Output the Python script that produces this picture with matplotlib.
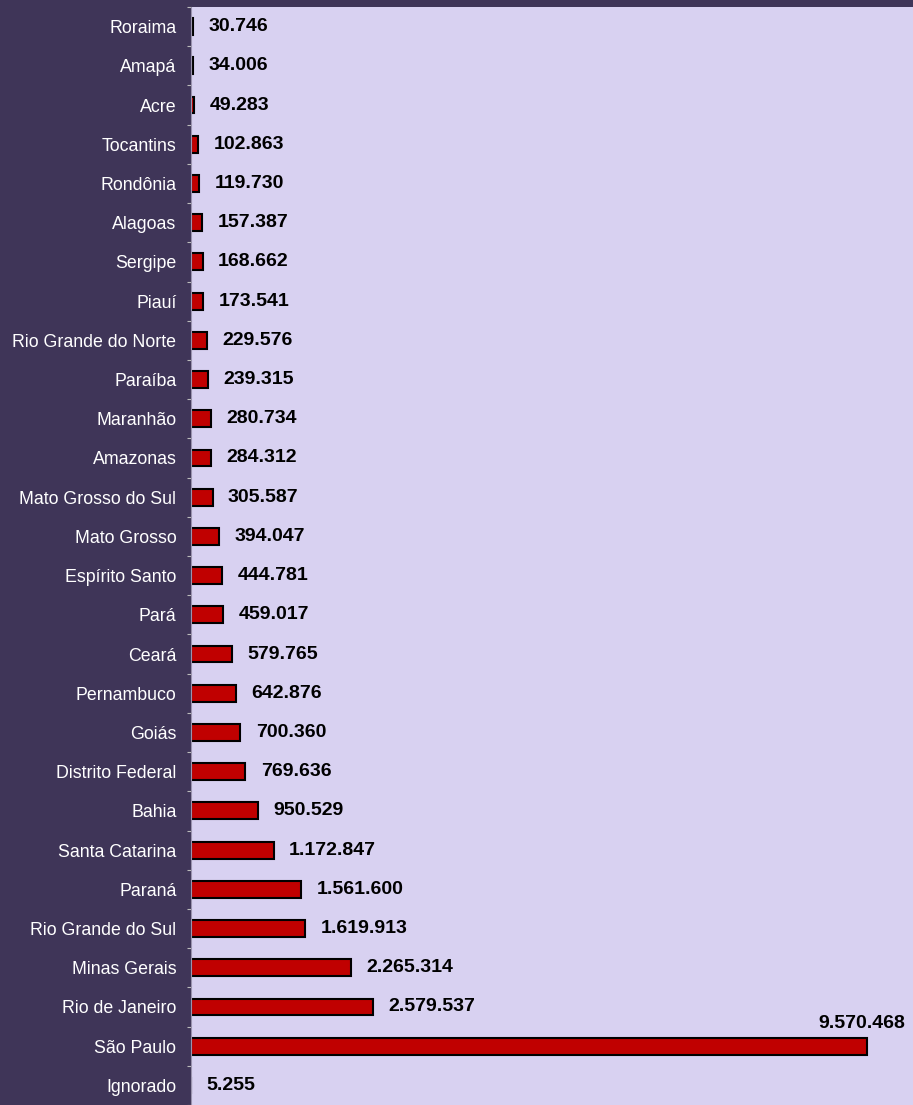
import matplotlib.pyplot as plt
import numpy as np

plt.rcParams['font.family'] = ['Liberation Sans', 'DejaVu Sans']

estados = ['Roraima', 'Amapá', 'Acre', 'Tocantins', 'Rondônia', 'Alagoas', 'Sergipe',
           'Piauí', 'Rio Grande do Norte', 'Paraíba', 'Maranhão', 'Amazonas',
           'Mato Grosso do Sul', 'Mato Grosso', 'Espírito Santo', 'Pará', 'Ceará',
           'Pernambuco', 'Goiás', 'Distrito Federal', 'Bahia', 'Santa Catarina',
           'Paraná', 'Rio Grande do Sul', 'Minas Gerais', 'Rio de Janeiro',
           'São Paulo', 'Ignorado']
valores = [30746, 34006, 49283, 102863, 119730, 157387, 168662, 173541, 229576,
           239315, 280734, 284312, 305587, 394047, 444781, 459017, 579765, 642876,
           700360, 769636, 950529, 1172847, 1561600, 1619913, 2265314, 2579537,
           9570468, 5255]

dark = '#3F3558'
lav = '#D8D1F1'

def fmt(v):
    return f'{v:,}'.replace(',', '.')

fig = plt.figure(figsize=(9.13, 11.05), dpi=100, facecolor=dark)
ax = fig.add_axes([191 / 913, 0, 722 / 913, 1098 / 1105])
ax.set_facecolor(lav)

pos = np.arange(len(estados))
ax.barh(pos, valores, height=0.43, color='#C00000', edgecolor='black', linewidth=1.5)

for p, v in zip(pos, valores):
    if v == max(valores):
        ax.annotate(fmt(v), (v, p), xytext=(-4, 16), textcoords='offset points',
                    ha='center', va='center', fontsize=14, fontweight='bold')
    else:
        ax.annotate(fmt(v), (v, p), xytext=(11, 0), textcoords='offset points',
                    ha='left', va='center', fontsize=14, fontweight='bold')

ax.set_xlim(0, 722 / 676 * max(valores))
ax.set_ylim(27.3, -0.5)
ax.set_xticks([])
ax.set_yticks(pos)
ax.set_yticklabels(estados, color='white', fontsize=12.8)
ax.tick_params(axis='y', which='major', length=0, pad=10.5)
ax.set_yticks(np.arange(-0.5, len(estados), 1), minor=True)
ax.tick_params(axis='y', which='minor', length=3.2, color='#BBBBBB', width=0.8)
for s in ['top', 'right', 'bottom']:
    ax.spines[s].set_visible(False)
ax.spines['left'].set_color('#9A93AE')
ax.spines['left'].set_linewidth(0.8)

fig.savefig('out.png', dpi=100, facecolor=dark)
